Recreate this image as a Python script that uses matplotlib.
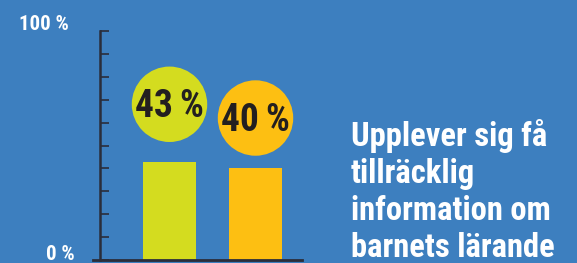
import matplotlib
matplotlib.use("Agg")
import matplotlib.pyplot as plt

# data
values = [43, 40]
labels = ["43\u2009%", "40\u2009%"]
bar_colors = ["#D4DC1F", "#FDBF12"]
axis_labels = ["100 %", "0 %"]
caption = "Upplever sig få\ntillräcklig\ninformation om\nbarnets lärande"

bg = "#3D7FBF"
dark = "#2A2D3A"
W, H = 577, 263

plt.rcParams["font.family"] = ["Roboto Condensed", "DejaVu Sans"]

fig = plt.figure(figsize=(W / 100, H / 100), dpi=100)
fig.patch.set_facecolor(bg)

# axes placed in pixel terms: axis line x=100, baseline y=260, 100% at y=31
ax = fig.add_axes([100 / W, 3 / H, 202 / W, 229 / H])
ax.set_facecolor(bg)
ax.set_xlim(0, 202)
ax.set_ylim(0, 100)

centers = [69.5, 155.5]
ax.bar(centers, values, width=53, color=bar_colors, zorder=2)

# circles with percentage labels above bars
offsets = [25, 22]
for x, v, c, lab, off in zip(centers, values, bar_colors, labels, offsets):
    ax.scatter([x], [v + off], s=2950, color=c, zorder=3, clip_on=False,
               edgecolors="none")
    ax.text(x, v + off - 1, lab, ha="center", va="center", fontsize=27,
            fontweight="heavy", color="#231F20", zorder=4)

for s in ["top", "right", "bottom"]:
    ax.spines[s].set_visible(False)
ax.spines["left"].set_color(dark)
ax.spines["left"].set_linewidth(1.8)
ax.plot([-7, 202], [0, 0], color=dark, lw=2, clip_on=False, zorder=5)

ax.set_yticks(range(0, 101, 10))
ax.tick_params(axis="y", direction="in", length=6.5, width=1.2, color=dark,
               labelleft=False)
ax.set_xticks([])

fig.text(69 / W, 1 - 24 / H, axis_labels[0], ha="right", va="center",
         fontsize=15, fontweight="heavy", color="white")
fig.text(75 / W, 1 - 255 / H, axis_labels[1], ha="right", va="center",
         fontsize=15, fontweight="heavy", color="white")

fig.text(351 / W, 1 - 119 / H, caption, ha="left", va="top", fontsize=23.5,
         fontweight="heavy", color="white", linespacing=1.2)

fig.savefig("out.png", dpi=100, facecolor=bg)
